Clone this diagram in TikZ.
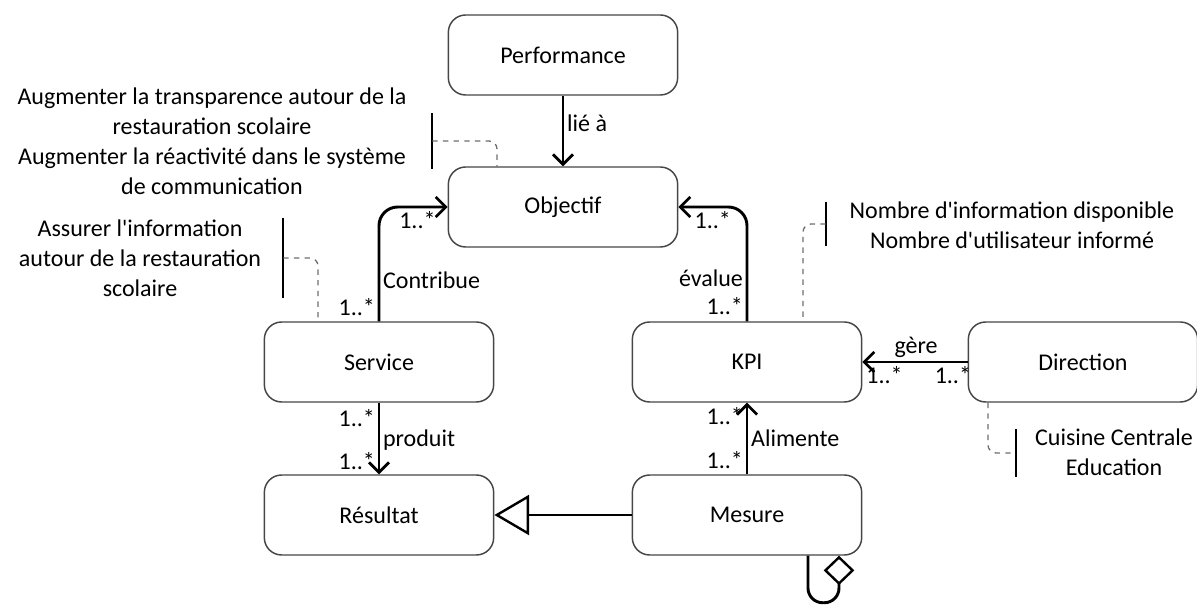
\documentclass[tikz,border=0pt]{standalone}
\usepackage{fontspec}
\setmainfont{Carlito}
\usetikzlibrary{positioning, arrows.meta}
\definecolor{BoxGray}{RGB}{70,70,70}
\definecolor{LinkGray}{RGB}{110,110,110}

\begin{document}
\begin{tikzpicture}[x=0.75pt, y=-0.75pt,
          every node/.append style={font=\fontsize{18}{22.5}\selectfont},
          cls/.style={rectangle, rounded corners=13pt, draw=BoxGray,
                      line width=1.1pt, minimum width=172pt,
                      minimum height=60pt, fill=white},
          note/.style={align=center, inner sep=0pt},
          brk/.style={inner sep=0pt, minimum width=0pt},
          brkline/.style={line width=2pt, black},
          assoc/.style={-{Straight Barb[length=7.5pt, width=15pt, line width=2pt]},
                        line width=2.2pt, rounded corners=14pt},
          gen/.style={-{Triangle[open, length=26pt, width=30pt, line width=1.8pt]},
                      line width=2.2pt},
          aggr/.style={-{Diamond[open, length=22pt, width=23pt, line width=1.8pt]},
                       line width=2.2pt, rounded corners=11pt},
          link/.style={LinkGray, line width=1pt, dash pattern=on 4pt off 4pt,
                       rounded corners=6pt},
          mult/.style={inner sep=2pt}
        ]
        \useasboundingbox (0,0) rectangle (1197,605);

        % Classes
        \node[cls] (perf) at (563, 55)  {Performance};
        \node[cls] (obj)  at (563, 207) {Objectif};
        \node[cls] (serv) at (379, 362) {Service};
        \node[cls] (kpi)  at (747, 362) {KPI};
        \node[cls] (dir)  at (1083,362) {Direction};
        \node[cls] (res)  at (379, 515) {Résultat};
        \node[cls] (mes)  at (747, 515) {Mesure};

        % Associations
        \draw[assoc] (perf) -- node[pos=0.39, right, mult]{lié à} (obj);
        \draw[assoc] (serv.north) |-
              node[pos=0.06, left, mult]{1..*}
              node[pos=0.18, right, mult]{Contribue}
              node[pos=0.78, below, mult]{1..*} (obj.west);
        \draw[assoc] (kpi.north) |-
              node[pos=0.065, left, mult]{1..*}
              node[pos=0.19, left, mult]{évalue}
              node[pos=0.75, below, mult]{1..*} (obj.east);
        \draw[assoc] (serv) --
              node[pos=0.22, left, mult]{1..*}
              node[pos=0.52, right, mult]{produit}
              node[pos=0.82, left, mult]{1..*} (res);
        \draw[assoc] (mes) --
              node[pos=0.2, left, mult]{1..*}
              node[pos=0.5, right, mult]{Alimente}
              node[pos=0.82, left, mult]{1..*} (kpi);
        \draw[assoc] (dir) --
              node[pos=0.49, above, mult]{gère}
              node[pos=0.14, below, mult]{1..*}
              node[pos=0.79, below, mult]{1..*} (kpi);

        % Generalisation and aggregation
        \draw[gen] (mes) -- (res);
        \draw[aggr] ([xshift=45.75pt]mes.south) -- ++(0,47) -- ++(31,0)
              -- ([xshift=69pt]mes.south);

        % Notes
        \node[note] (n1) at (212,141)
              {Augmenter la transparence autour de la\\restauration scolaire\\
               Augmenter la réactivité dans le système\\de communication};
        \node[brk, minimum height=41pt] (b1) at (432,141) {};
        \draw[brkline] (b1.north) -- (b1.south);
        \draw[link] (b1) -| ([xshift=-49.5pt]obj.north);

        \node[note] (n2) at (140,258)
              {Assurer l\textquotesingle information\\autour de la restauration\\scolaire};
        \node[brk, minimum height=60pt] (b2) at (283,258) {};
        \draw[brkline] (b2.north) -- (b2.south);
        \draw[link] (b2) -| ([xshift=-45.75pt]serv.north);

        \node[note] (n3) at (1012,225)
              {Nombre d\textquotesingle information disponible\\
               Nombre d\textquotesingle utilisateur informé};
        \node[brk, minimum height=33pt] (b3) at (826,224) {};
        \draw[brkline] (b3.north) -- (b3.south);
        \draw[link] (b3) -| ([xshift=42pt]kpi.north);

        \node[note] (n4) at (1114,452) {Cuisine Centrale\\Education};
        \node[brk, minimum height=35pt] (b4) at (1016,453) {};
        \draw[brkline] (b4.north) -- (b4.south);
        \draw[link] ([xshift=-71.25pt]dir.south) |- (b4);
      \end{tikzpicture}
\end{document}
